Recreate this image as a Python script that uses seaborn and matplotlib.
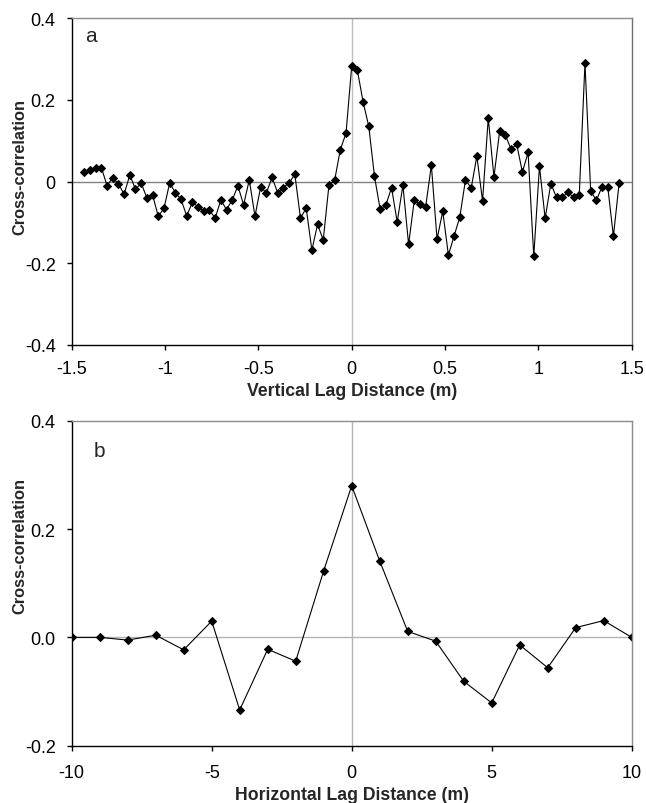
import numpy as np
import pandas as pd
import matplotlib
matplotlib.use("Agg")
import matplotlib.pyplot as plt
import seaborn as sns

# ---------------- data ----------------
# Panel a: vertical lag index (k * 0.1 ft = k * 0.03048 m), k = -47..47
vert_step = 0.03048
vert_k = list(range(-47, 48))
vert_cc = [
    0.024, 0.028, 0.032, 0.034, -0.010, 0.009, -0.006, -0.031, 0.016, -0.019,
    -0.004, -0.040, -0.033, -0.085, -0.066, -0.004, -0.027, -0.044, -0.084, -0.051,
    -0.062, -0.072, -0.070, -0.090, -0.045, -0.069, -0.045, -0.011, -0.057, 0.004,
    -0.085, -0.013, -0.028, 0.010, -0.028, -0.015, -0.004, 0.018, -0.090, -0.065,
    -0.168, -0.105, -0.143, -0.009, 0.003, 0.078, 0.118, 0.282, 0.272, 0.195,
    0.135, 0.013, -0.068, -0.058, -0.015, -0.099, -0.009, -0.154, -0.046, -0.055,
    -0.062, 0.040, -0.141, -0.073, -0.180, -0.133, -0.087, 0.004, -0.016, 0.062,
    -0.048, 0.155, 0.011, 0.123, 0.114, 0.079, 0.091, 0.023, 0.071, -0.183,
    0.037, -0.090, -0.005, -0.039, -0.039, -0.026, -0.039, -0.032, 0.290, -0.023,
    -0.046, -0.013, -0.013, -0.134, -0.004,
]

# Panel b: horizontal lag (m)
horiz_lag = list(range(-10, 11))
horiz_cc = [
    0.000, 0.000, -0.005, 0.004, -0.023, 0.030, -0.134, -0.022, -0.044, 0.123,
    0.280, 0.141, 0.011, -0.007, -0.081, -0.121, -0.014, -0.056, 0.018, 0.031,
    0.000,
]

top_xticks = [-1.5, -1, -0.5, 0, 0.5, 1, 1.5]
top_xticklabels = ["-1.5", "-1", "-0.5", "0", "0.5", "1", "1.5"]
top_yticks = [-0.4, -0.2, 0, 0.2, 0.4]
top_yticklabels = ["-0.4", "-0.2", "0", "0.2", "0.4"]
bot_xticks = [-10, -5, 0, 5, 10]
bot_xticklabels = ["-10", "-5", "0", "5", "10"]
bot_yticks = [-0.2, 0.0, 0.2, 0.4]
bot_yticklabels = ["-0.2", "0.0", "0.2", "0.4"]

df_a = pd.DataFrame({"lag": np.array(vert_k) * vert_step, "cc": vert_cc})
df_b = pd.DataFrame({"lag": horiz_lag, "cc": horiz_cc})

# ---------------- style ----------------
sns.set_style("white")
plt.rcParams["font.family"] = ["Liberation Sans", "DejaVu Sans"]

W, H = 646, 804
fig = plt.figure(figsize=(W / 100, H / 100), dpi=100)

def px_axes(left, top, right, bottom):
    return fig.add_axes([left / W, 1 - bottom / H, (right - left) / W, (bottom - top) / H])

ax_a = px_axes(71.7, 19.0, 631.7, 346.0)
ax_b = px_axes(71.7, 421.7, 631.7, 746.7)

TICK_FS = 13
XLABEL_FS = 12.7
YLABEL_FS = 11.8

def style_axes(ax, hcolor, vcolor, rcolor, xpad):
    for s in ["left", "bottom"]:
        ax.spines[s].set_color("black")
        ax.spines[s].set_linewidth(1.0)
    ax.spines["top"].set_color("#8c8c8c")
    ax.spines["top"].set_linewidth(1.0)
    ax.spines["right"].set_color(rcolor)
    ax.spines["right"].set_linewidth(1.0)
    ax.axhline(0, color=hcolor, lw=1.0, zorder=0)
    ax.axvline(0, color=vcolor, lw=1.0, zorder=0)
    ax.tick_params(axis="both", which="major", direction="out", length=3.5, width=1,
                   color="black", labelsize=TICK_FS, labelcolor="black",
                   bottom=True, left=True, top=False, right=False)
    ax.tick_params(axis="y", pad=8)
    ax.tick_params(axis="x", pad=xpad)

# Panel a
sns.lineplot(data=df_a, x="lag", y="cc", ax=ax_a, color="black", linewidth=0.8,
             marker="D", markersize=3.7, markeredgecolor="black",
             markerfacecolor="black", estimator=None, sort=False)
ax_a.set_xlim(-1.5, 1.5)
ax_a.set_ylim(-0.4, 0.4)
ax_a.set_xticks(top_xticks)
ax_a.set_xticklabels(top_xticklabels)
ax_a.set_yticks(top_yticks)
ax_a.set_yticklabels(top_yticklabels)
style_axes(ax_a, "#808080", "#bdbdbd", "#6e6e6e", 7.0)
ax_a.set_xlabel("Vertical Lag Distance (m)", fontsize=XLABEL_FS, fontweight="bold")
ax_a.set_ylabel("Cross-correlation", fontsize=YLABEL_FS, fontweight="bold")
ax_a.xaxis.set_label_coords(0.5, -0.14)
ax_a.xaxis.label.set_va("center")
ax_a.yaxis.set_label_coords(-0.093, 0.547)
ax_a.yaxis.label.set_va("center")
ax_a.text(0.035, 0.948, "a", transform=ax_a.transAxes, fontsize=15,
          ha="center", va="center")

# Panel b
sns.lineplot(data=df_b, x="lag", y="cc", ax=ax_b, color="black", linewidth=0.8,
             marker="D", markersize=3.7, markeredgecolor="black",
             markerfacecolor="black", estimator=None, sort=False)
ax_b.set_xlim(-10, 10)
ax_b.set_ylim(-0.2, 0.4)
ax_b.set_xticks(bot_xticks)
ax_b.set_xticklabels(bot_xticklabels)
ax_b.set_yticks(bot_yticks)
ax_b.set_yticklabels(bot_yticklabels)
style_axes(ax_b, "#b4b4b4", "#b4b4b4", "#8c8c8c", 9.5)
ax_b.set_xlabel("Horizontal Lag Distance (m)", fontsize=XLABEL_FS, fontweight="bold")
ax_b.set_ylabel("Cross-correlation", fontsize=YLABEL_FS, fontweight="bold")
ax_b.xaxis.set_label_coords(0.5, -0.149)
ax_b.xaxis.label.set_va("center")
ax_b.yaxis.set_label_coords(-0.093, 0.6175)
ax_b.yaxis.label.set_va("center")
ax_b.text(0.049, 0.907, "b", transform=ax_b.transAxes, fontsize=15,
          ha="center", va="center")

fig.savefig("out.png", dpi=100, facecolor="white")
